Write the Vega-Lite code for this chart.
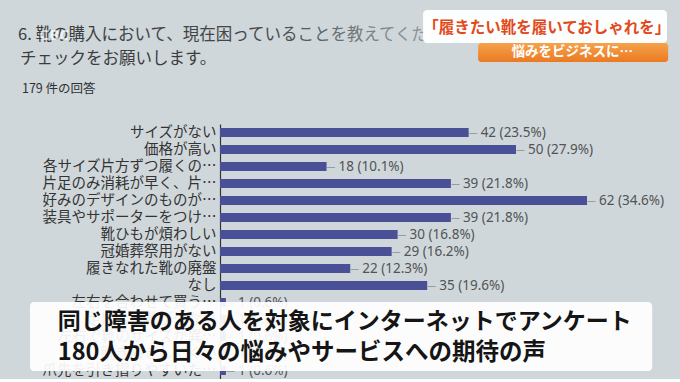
{
  "$schema": "https://vega.github.io/schema/vega-lite/v6.json",
  "autosize": {"type": "none"},
  "padding": {"left": 220, "top": 124, "right": 0, "bottom": 0},
  "width": 460,
  "height": 255,
  "background": "#d0d7da",
  "config": {"view": {"stroke": null}, "font": "Noto Sans CJK JP"},
  "datasets": {
    "survey": [
      {"item": "サイズがない", "count": 42, "label": "42 (23.5%)"},
      {"item": "価格が高い", "count": 50, "label": "50 (27.9%)"},
      {"item": "各サイズ片方ずつ履くの…", "count": 18, "label": "18 (10.1%)"},
      {"item": "片足のみ消耗が早く、片…", "count": 39, "label": "39 (21.8%)"},
      {"item": "好みのデザインのものが…", "count": 62, "label": "62 (34.6%)"},
      {"item": "装具やサポーターをつけ…", "count": 39, "label": "39 (21.8%)"},
      {"item": "靴ひもが煩わしい", "count": 30, "label": "30 (16.8%)"},
      {"item": "冠婚葬祭用がない", "count": 29, "label": "29 (16.2%)"},
      {"item": "履きなれた靴の廃盤", "count": 22, "label": "22 (12.3%)"},
      {"item": "なし", "count": 35, "label": "35 (19.6%)"},
      {"item": "左右を合わせて買う…", "count": 1, "label": "1 (0.6%)"},
      {"item": "足に合う靴が少ない", "count": 1, "label": "1 (0.6%)"},
      {"item": "左右で靴のサイズが異…", "count": 1, "label": "1 (0.6%)"},
      {"item": "脱ぎ履きしにくい", "count": 1, "label": "1 (0.6%)"},
      {"item": "爪先を引き摺りやすいた…", "count": 1, "label": "1 (0.6%)"}
    ],
    "q1": [{"text": "6. 靴の購入において、現在困っていることを教えてください。当てはまるものすべてに"}],
    "q2": [{"text": "チェックをお願いします。"}],
    "q3": [{"text": "179 件の回答"}],
    "caption1": [{"text": "同じ障害のある人を対象にインターネットでアンケート"}],
    "caption2": [{"text": "180人から日々の悩みやサービスへの期待の声"}],
    "headline": [{"text": "「履きたい靴を履いておしゃれを」"}],
    "sub": [{"text": "悩みをビジネスに…"}],
    "logo": [{"text": "CBC"}],
    "box": [{"name": "box"}]
  },
  "layer": [
    {
      "data": {"name": "survey"},
      "mark": {"type": "bar", "color": "#4a5096", "height": {"band": 0.53}},
      "encoding": {
        "y": {
          "field": "item", "type": "nominal",
          "scale": {
            "domain": ["サイズがない", "価格が高い", "各サイズ片方ずつ履くの…", "片足のみ消耗が早く、片…", "好みのデザインのものが…", "装具やサポーターをつけ…", "靴ひもが煩わしい", "冠婚葬祭用がない", "履きなれた靴の廃盤", "なし", "左右を合わせて買う…", "足に合う靴が少ない", "左右で靴のサイズが異…", "脱ぎ履きしにくい", "爪先を引き摺りやすいた…"],
            "paddingInner": 0, "paddingOuter": 0
          },
          "axis": {
            "title": null, "ticks": false, "grid": false,
            "domainColor": "#333333", "domainWidth": 1.2,
            "labelFont": "Noto Sans CJK JP", "labelFontSize": 14.5, "labelColor": "#333333",
            "labelPadding": 4, "labelLimit": 300
          }
        },
        "x": {
          "field": "count", "type": "quantitative",
          "scale": {"domain": [0, 77.7], "nice": false, "zero": true},
          "axis": null
        }
      }
    },
    {
      "data": {"name": "survey"},
      "mark": {"type": "text", "align": "left", "baseline": "middle", "dx": 0, "fontSize": 10, "color": "#8a8f92", "text": "—"},
      "encoding": {
        "y": {"field": "item", "type": "nominal"},
        "x": {"field": "count", "type": "quantitative"}
      }
    },
    {
      "data": {"name": "survey"},
      "mark": {"type": "text", "align": "left", "baseline": "middle", "dx": 12, "font": "Noto Sans", "fontSize": 13.5, "color": "#505456"},
      "encoding": {
        "y": {"field": "item", "type": "nominal"},
        "x": {"field": "count", "type": "quantitative"},
        "text": {"field": "label"}
      }
    },
    {
      "data": {"name": "q1"},
      "mark": {"type": "text", "align": "left", "baseline": "middle", "font": "Noto Sans CJK JP", "fontSize": 16.5,
        "color": {"gradient": "linear", "x1": 0, "y1": 0, "x2": 1, "y2": 0, "stops": [{"offset": 0, "color": "#383b3e"}, {"offset": 0.4, "color": "#45494c"}, {"offset": 0.6, "color": "#8a9094"}, {"offset": 1, "color": "#a3a9ac"}]}},
      "encoding": {
        "x": {"datum": -34.1, "type": "quantitative"},
        "y": {"datum": "サイズがない", "type": "nominal", "bandPosition": -5.24},
        "text": {"field": "text"}
      }
    },
    {
      "data": {"name": "q2"},
      "mark": {"type": "text", "align": "left", "baseline": "middle", "font": "Noto Sans CJK JP", "fontSize": 16.5, "color": "#3a3d40"},
      "encoding": {
        "x": {"datum": -33.8, "type": "quantitative"},
        "y": {"datum": "サイズがない", "type": "nominal", "bandPosition": -3.82},
        "text": {"field": "text"}
      }
    },
    {
      "data": {"name": "q3"},
      "mark": {"type": "text", "align": "left", "baseline": "middle", "font": "Noto Sans CJK JP", "fontSize": 12.5, "color": "#2e3133"},
      "encoding": {
        "x": {"datum": -33.45, "type": "quantitative"},
        "y": {"datum": "サイズがない", "type": "nominal", "bandPosition": -2.06},
        "text": {"field": "text"}
      }
    },
    {
      "data": {"name": "logo"},
      "mark": {"type": "text", "align": "center", "baseline": "middle", "font": "Noto Sans", "fontWeight": "bold", "fontSize": 15, "color": "#ffffff", "opacity": 0.7},
      "encoding": {
        "x": {"datum": -28.0, "type": "quantitative"},
        "y": {"datum": "サイズがない", "type": "nominal", "bandPosition": -5.24},
        "text": {"field": "text"}
      }
    },
    {
      "data": {"name": "box"},
      "mark": {"type": "rect", "fill": "#ffffff", "opacity": 0.92, "cornerRadius": 4},
      "encoding": {
        "x": {"datum": -32.1, "type": "quantitative"},
        "x2": {"datum": 73.0},
        "y": {"datum": "左右を合わせて買う…", "type": "nominal", "bandPosition": 0.47},
        "y2": {"datum": "爪先を引き摺りやすいた…", "bandPosition": 0.53}
      }
    },
    {
      "data": {"name": "caption1"},
      "mark": {"type": "text", "align": "left", "baseline": "middle", "font": "Noto Sans CJK JP", "fontWeight": "bold", "fontSize": 23, "color": "#151515"},
      "encoding": {
        "x": {"datum": -27.4, "type": "quantitative"},
        "y": {"datum": "足に合う靴が少ない", "type": "nominal", "bandPosition": 0.62},
        "text": {"field": "text"}
      }
    },
    {
      "data": {"name": "caption2"},
      "mark": {"type": "text", "align": "left", "baseline": "middle", "font": "Noto Sans CJK JP", "fontWeight": "bold", "fontSize": 23.5, "color": "#151515"},
      "encoding": {
        "x": {"datum": -27.4, "type": "quantitative"},
        "y": {"datum": "脱ぎ履きしにくい", "type": "nominal", "bandPosition": 0.47},
        "text": {"field": "text"}
      }
    },
    {
      "data": {"name": "box"},
      "mark": {"type": "rect", "fill": "#ffffff", "opacity": 0.96, "cornerRadius": 4},
      "encoding": {
        "x": {"datum": 34.3, "type": "quantitative"},
        "x2": {"datum": 75.5},
        "y": {"datum": "サイズがない", "type": "nominal", "bandPosition": -6.71},
        "y2": {"datum": "サイズがない", "bandPosition": -4.76}
      }
    },
    {
      "data": {"name": "headline"},
      "mark": {"type": "text", "align": "center", "baseline": "middle", "font": "Noto Sans CJK JP", "fontWeight": "bold", "fontSize": 15.5, "color": "#e24a1c"},
      "encoding": {
        "x": {"datum": 55.2, "type": "quantitative"},
        "y": {"datum": "サイズがない", "type": "nominal", "bandPosition": -5.65},
        "text": {"field": "text"}
      }
    },
    {
      "data": {"name": "box"},
      "mark": {"type": "rect", "cornerRadius": 3,
        "color": {"gradient": "linear", "x1": 0, "y1": 0, "x2": 0, "y2": 1, "stops": [{"offset": 0, "color": "#f6a24c"}, {"offset": 1, "color": "#ea7a22"}]}},
      "encoding": {
        "x": {"datum": 43.6, "type": "quantitative"},
        "x2": {"datum": 75.7},
        "y": {"datum": "サイズがない", "type": "nominal", "bandPosition": -4.76},
        "y2": {"datum": "サイズがない", "bandPosition": -3.65}
      }
    },
    {
      "data": {"name": "sub"},
      "mark": {"type": "text", "align": "center", "baseline": "middle", "font": "Noto Sans CJK JP", "fontWeight": "bold", "fontSize": 13.5, "color": "#ffffff"},
      "encoding": {
        "x": {"datum": 59.5, "type": "quantitative"},
        "y": {"datum": "サイズがない", "type": "nominal", "bandPosition": -4.22},
        "text": {"field": "text"}
      }
    }
  ]
}
